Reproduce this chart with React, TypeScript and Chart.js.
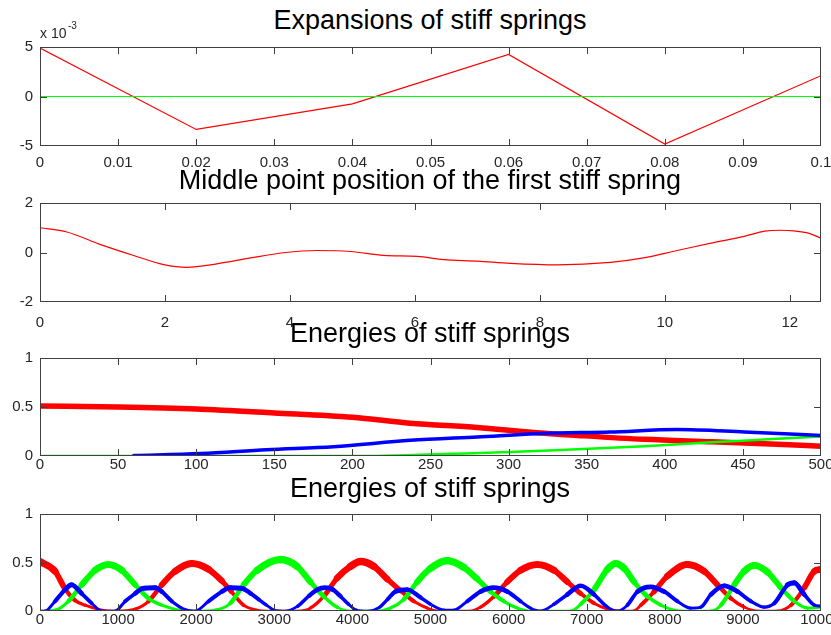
import React, { useEffect, useRef } from 'react';
import { Chart, registerables } from 'chart.js';

Chart.register(...registerables);

const FONT = "'Liberation Sans', Arial, Helvetica, sans-serif";

// ---------- Panel 1: Expansions of stiff springs (values in units of 1) ----------
const P1_T = [0, 0.02, 0.04, 0.06, 0.08, 0.1];
const P1_RED = [0.0049, -0.00333, -0.00075, 0.00425, -0.0048, 0.0021];
const P1_GREEN = [0, 0, 0, 0, 0, 0];
const P1_XTICKS = [0, 0.01, 0.02, 0.03, 0.04, 0.05, 0.06, 0.07, 0.08, 0.09, 0.1];
const P1_XLABELS = ['0', '0.01', '0.02', '0.03', '0.04', '0.05', '0.06', '0.07', '0.08', '0.09', '0.1'];
const P1_YTICKS = [-0.005, 0, 0.005];
const P1_YLABELS = ['-5', '0', '5'];

// ---------- Panel 2: Middle point position of the first stiff spring ----------
const P2_T = [0, 0.43, 0.96, 1.5, 1.98, 2.35, 2.83, 3.37, 3.9, 4.43, 4.97, 5.5, 6.04, 6.46, 7.0, 7.53, 8.28, 9.13, 9.66, 10.2, 10.74, 11.27, 11.6, 11.85, 12.07, 12.3, 12.5];
const P2_Y = [1.0, 0.83, 0.33, -0.12, -0.49, -0.6, -0.46, -0.22, -0.01, 0.08, 0.04, -0.12, -0.16, -0.29, -0.35, -0.44, -0.5, -0.4, -0.22, 0.08, 0.38, 0.65, 0.86, 0.9, 0.87, 0.78, 0.58];
const P2_XTICKS = [0, 2, 4, 6, 8, 10, 12];
const P2_XLABELS = ['0', '2', '4', '6', '8', '10', '12'];
const P2_YTICKS = [-2, 0, 2];
const P2_YLABELS = ['-2', '0', '2'];

// ---------- Panel 3: Energies of stiff springs (0..500) ----------
const P3_RED_T = [0, 50, 100, 150, 200, 237, 280, 316, 344, 387, 430, 472, 500];
const P3_RED = [0.51, 0.5, 0.48, 0.44, 0.395, 0.335, 0.29, 0.24, 0.21, 0.17, 0.145, 0.12, 0.1];
const P3_BLUE_T = [60, 103, 145, 188, 237, 280, 322, 365, 408, 451, 500];
const P3_BLUE = [0.005, 0.025, 0.065, 0.095, 0.16, 0.195, 0.23, 0.245, 0.27, 0.245, 0.21];
const P3_GREEN_T = [0, 215, 258, 301, 344, 387, 430, 472, 500];
const P3_GREEN = [0, 0, 0.02, 0.04, 0.07, 0.1, 0.14, 0.175, 0.2];
const P3_XTICKS = [0, 50, 100, 150, 200, 250, 300, 350, 400, 450, 500];
const P3_XLABELS = ['0', '50', '100', '150', '200', '250', '300', '350', '400', '450', '500'];
const E_YTICKS = [0, 0.5, 1];
const E_YLABELS = ['0', '0.5', '1'];

// ---------- Panel 4: Energies of stiff springs (0..10000) ----------
const P4_RED_T = [0, 192, 320, 449, 577, 791, 962, 1218, 1389, 1560, 1731, 1944, 2158, 2329, 2450, 2607, 2778, 2950, 3300, 3462, 3633, 3804, 3975, 4103, 4274, 4445, 4616, 4787, 4958, 5100, 5500, 5641, 5812, 5983, 6154, 6367, 6581, 6752, 6923, 7094, 7265, 7436, 7600, 7693, 7863, 8034, 8290, 8504, 8675, 8846, 9017, 9200, 9444, 9615, 9786, 9915, 10000];
const P4_RED = [0.51, 0.41, 0.23, 0.11, 0.06, 0.01, 0, 0.02, 0.1, 0.27, 0.41, 0.49, 0.43, 0.31, 0.2, 0.06, 0.01, 0, 0, 0.03, 0.15, 0.34, 0.46, 0.51, 0.46, 0.33, 0.21, 0.1, 0.03, 0, 0, 0.04, 0.15, 0.3, 0.42, 0.48, 0.42, 0.3, 0.18, 0.08, 0.02, 0, 0, 0.06, 0.2, 0.36, 0.48, 0.41, 0.27, 0.13, 0.04, 0, 0, 0.06, 0.24, 0.41, 0.43];
const P4_GREEN_T = [0, 200, 363, 534, 705, 876, 1047, 1218, 1389, 1560, 1774, 1987, 2244, 2436, 2607, 2778, 3077, 3291, 3462, 3633, 3804, 3975, 4300, 4487, 4658, 4829, 5000, 5213, 5427, 5598, 5769, 5940, 6111, 6282, 6800, 6923, 7094, 7265, 7370, 7480, 7607, 7778, 7949, 8120, 8290, 8590, 8718, 8889, 9017, 9145, 9316, 9487, 9658, 9829, 10000];
const P4_GREEN = [0, 0.01, 0.1, 0.27, 0.42, 0.48, 0.42, 0.27, 0.13, 0.06, 0.01, 0, 0.01, 0.08, 0.27, 0.42, 0.53, 0.46, 0.3, 0.15, 0.04, 0, 0, 0.03, 0.12, 0.3, 0.44, 0.52, 0.45, 0.33, 0.2, 0.1, 0.03, 0, 0, 0.07, 0.22, 0.43, 0.49, 0.44, 0.3, 0.15, 0.06, 0.01, 0, 0, 0.06, 0.27, 0.41, 0.47, 0.4, 0.24, 0.1, 0.03, 0.04];
const P4_BLUE_T = [0, 64, 192, 320, 406, 534, 662, 791, 962, 1090, 1218, 1303, 1474, 1560, 1688, 1816, 1987, 2158, 2329, 2436, 2600, 2700, 2800, 2900, 3000, 3150, 3300, 3450, 3550, 3650, 3750, 3850, 3950, 4050, 4200, 4350, 4450, 4550, 4700, 4872, 5000, 5171, 5299, 5470, 5641, 5812, 5983, 6154, 6282, 6410, 6581, 6752, 6923, 7094, 7265, 7400, 7520, 7650, 7820, 7992, 8162, 8333, 8461, 8590, 8761, 8932, 9103, 9273, 9402, 9573, 9658, 9786, 9915, 10000];
const P4_BLUE = [0, 0, 0.1, 0.22, 0.27, 0.18, 0.08, 0, 0, 0.1, 0.18, 0.23, 0.24, 0.2, 0.1, 0.03, 0, 0.1, 0.2, 0.24, 0.23, 0.18, 0.12, 0.06, 0.01, 0, 0.05, 0.16, 0.22, 0.24, 0.22, 0.15, 0.07, 0.01, 0, 0.04, 0.12, 0.2, 0.22, 0.14, 0.07, 0.01, 0.01, 0.1, 0.2, 0.24, 0.2, 0.1, 0.03, 0, 0.07, 0.17, 0.26, 0.17, 0.04, 0, 0.06, 0.2, 0.25, 0.2, 0.1, 0.03, 0.04, 0.17, 0.26, 0.2, 0.1, 0.04, 0.08, 0.27, 0.29, 0.17, 0.06, 0.05];
const P4_XTICKS = [0, 1000, 2000, 3000, 4000, 5000, 6000, 7000, 8000, 9000, 10000];
const P4_XLABELS = ['0', '1000', '2000', '3000', '4000', '5000', '6000', '7000', '8000', '9000', '10000'];

const TITLES = [
  'Expansions of stiff springs',
  'Middle point position of the first stiff spring',
  'Energies of stiff springs',
  'Energies of stiff springs',
];

const RED = '#ff0000';
const GREEN = '#00ff00';
const BLUE = '#0000ff';
const FRAME = '#404040';
const LABEL = '#262626';

const pts = (xs: number[], ys: number[]) => xs.map((x, i) => ({ x, y: ys[i] }));

const framePlugin = {
  id: 'matlabFrame',
  afterDatasetsDraw(chart: any) {
    const { ctx, chartArea } = chart;
    const { left, right, top, bottom } = chartArea;
    const xs = chart.scales.x;
    const ys = chart.scales.y;
    const TL = 7;
    ctx.save();
    ctx.strokeStyle = FRAME;
    ctx.lineWidth = 1;
    ctx.strokeRect(left + 0.5, top + 0.5, right - left - 1, bottom - top - 1);
    ctx.beginPath();
    xs.ticks.forEach((t: any) => {
      const px = Math.round(xs.getPixelForValue(t.value)) + 0.5;
      if (px <= left + 1 || px >= right - 1) return;
      ctx.moveTo(px, bottom);
      ctx.lineTo(px, bottom - TL);
      ctx.moveTo(px, top);
      ctx.lineTo(px, top + TL);
    });
    ys.ticks.forEach((t: any) => {
      const py = Math.round(ys.getPixelForValue(t.value)) + 0.5;
      if (py <= top + 1 || py >= bottom - 1) return;
      ctx.moveTo(left, py);
      ctx.lineTo(left + TL, py);
      ctx.moveTo(right, py);
      ctx.lineTo(right - TL, py);
    });
    ctx.stroke();
    ctx.restore();
  },
};

type PanelDef = {
  top: number;
  bottom: number;
  xMin: number;
  xMax: number;
  yMin: number;
  yMax: number;
  xTicks: number[];
  xLabels: string[];
  yTicks: number[];
  yLabels: string[];
  labelPad: number;
  datasets: any[];
};

const PAD_TOP = 12;
const XAXIS_H = 30;

function Panel({ def }: { def: PanelDef }) {
  const ref = useRef<HTMLCanvasElement | null>(null);
  const h = def.bottom + 1 - def.top + PAD_TOP + XAXIS_H;
  useEffect(() => {
    if (!ref.current) return;
    const chart = new Chart(ref.current, {
      type: 'line',
      data: { datasets: def.datasets },
      plugins: [framePlugin],
      options: {
        animation: false,
        responsive: false,
        devicePixelRatio: 1,
        layout: { padding: { top: PAD_TOP, right: 10, left: 0, bottom: 0 } },
        plugins: { legend: { display: false }, tooltip: { enabled: false }, title: { display: false } },
        elements: { point: { radius: 0 } },
        scales: {
          x: {
            type: 'linear',
            min: def.xMin,
            max: def.xMax,
            grid: { display: false, drawTicks: false },
            border: { display: false },
            afterBuildTicks: (scale: any) => {
              scale.ticks = def.xTicks.map((value) => ({ value }));
            },
            afterFit: (scale: any) => {
              scale.height = XAXIS_H;
              scale.paddingLeft = 0;
              scale.paddingRight = 0;
            },
            ticks: {
              autoSkip: false,
              maxRotation: 0,
              minRotation: 0,
              padding: def.labelPad,
              color: LABEL,
              font: { family: FONT, size: 15 },
              callback: (_v: any, i: number) => def.xLabels[i],
            },
          },
          y: {
            type: 'linear',
            min: def.yMin,
            max: def.yMax,
            grid: { display: false, drawTicks: false },
            border: { display: false },
            afterBuildTicks: (scale: any) => {
              scale.ticks = def.yTicks.map((value) => ({ value }));
            },
            afterFit: (scale: any) => {
              scale.width = 40;
              scale.paddingTop = 0;
              scale.paddingBottom = 0;
            },
            ticks: {
              autoSkip: false,
              padding: 7,
              color: LABEL,
              font: { family: FONT, size: 15 },
              callback: (_v: any, i: number) => def.yLabels[i],
            },
          },
        },
      } as any,
    });
    return () => chart.destroy();
  }, []);
  return (
    <canvas
      ref={ref}
      width={831}
      height={h}
      style={{ position: 'absolute', left: 0, top: def.top - PAD_TOP, width: 831, height: h, display: 'block' }}
    />
  );
}

const thin = (color: string, data: any[]) => ({
  data,
  borderColor: color,
  backgroundColor: color,
  borderWidth: 1.2,
  pointRadius: 0,
  fill: false,
  clip: 0,
});

const smooth = (color: string, data: any[], width: number) => ({
  data,
  borderColor: color,
  backgroundColor: color,
  borderWidth: width,
  pointRadius: 0,
  fill: false,
  clip: 0,
  cubicInterpolationMode: 'monotone',
  borderCapStyle: 'round',
  borderJoinStyle: 'round',
});

const varying = (color: string, data: any[]) => ({
  ...smooth(color, data, 3),
  segment: {
    borderWidth: (c: any) => 2.5 + 10 * ((c.p0.parsed.y + c.p1.parsed.y) / 2),
  },
});

const PANELS: PanelDef[] = [
  {
    top: 47, bottom: 145, xMin: 0, xMax: 0.1, yMin: -0.005, yMax: 0.005,
    xTicks: P1_XTICKS, xLabels: P1_XLABELS, yTicks: P1_YTICKS, yLabels: P1_YLABELS, labelPad: 8,
    datasets: [thin(GREEN, pts(P1_T, P1_GREEN)), thin(RED, pts(P1_T, P1_RED))],
  },
  {
    top: 203, bottom: 301, xMin: 0, xMax: 12.5, yMin: -2, yMax: 2,
    xTicks: P2_XTICKS, xLabels: P2_XLABELS, yTicks: P2_YTICKS, yLabels: P2_YLABELS, labelPad: 12,
    datasets: [{ ...thin(RED, pts(P2_T, P2_Y)), cubicInterpolationMode: 'monotone' }],
  },
  {
    top: 358, bottom: 455, xMin: 0, xMax: 500, yMin: 0, yMax: 1,
    xTicks: P3_XTICKS, xLabels: P3_XLABELS, yTicks: E_YTICKS, yLabels: E_YLABELS, labelPad: 0,
    datasets: [
      smooth(BLUE, pts(P3_BLUE_T, P3_BLUE), 3.5),
      smooth(GREEN, pts(P3_GREEN_T, P3_GREEN), 2.5),
      smooth(RED, pts(P3_RED_T, P3_RED), 5.5),
    ],
  },
  {
    top: 514, bottom: 610, xMin: 0, xMax: 10000, yMin: 0, yMax: 1,
    xTicks: P4_XTICKS, xLabels: P4_XLABELS, yTicks: E_YTICKS, yLabels: E_YLABELS, labelPad: 0,
    datasets: [
      varying(BLUE, pts(P4_BLUE_T, P4_BLUE)),
      varying(GREEN, pts(P4_GREEN_T, P4_GREEN)),
      varying(RED, pts(P4_RED_T, P4_RED)),
    ],
  },
];

const TITLE_TOPS = [7, 167, 320, 475];

export default function App() {
  return (
    <div
      style={{
        position: 'absolute',
        left: 0,
        top: 0,
        width: 831,
        height: 635,
        background: '#ffffff',
        overflow: 'hidden',
        fontFamily: FONT,
      }}
    >
      {PANELS.map((p, i) => (
        <Panel key={i} def={p} />
      ))}
      {TITLES.map((t, i) => (
        <div
          key={'t' + i}
          style={{
            position: 'absolute',
            left: 0,
            width: 860,
            top: TITLE_TOPS[i],
            textAlign: 'center',
            fontSize: 27,
            lineHeight: '27px',
            color: '#000',
            whiteSpace: 'nowrap',
          }}
        >
          {t}
        </div>
      ))}
      <div style={{ position: 'absolute', left: 40, top: 26, fontSize: 14, lineHeight: '14px', color: LABEL, whiteSpace: 'nowrap' }}>
        x 10
      </div>
      <div style={{ position: 'absolute', left: 68, top: 21, fontSize: 10, lineHeight: '10px', color: LABEL, whiteSpace: 'nowrap' }}>
        -3
      </div>
    </div>
  );
}
